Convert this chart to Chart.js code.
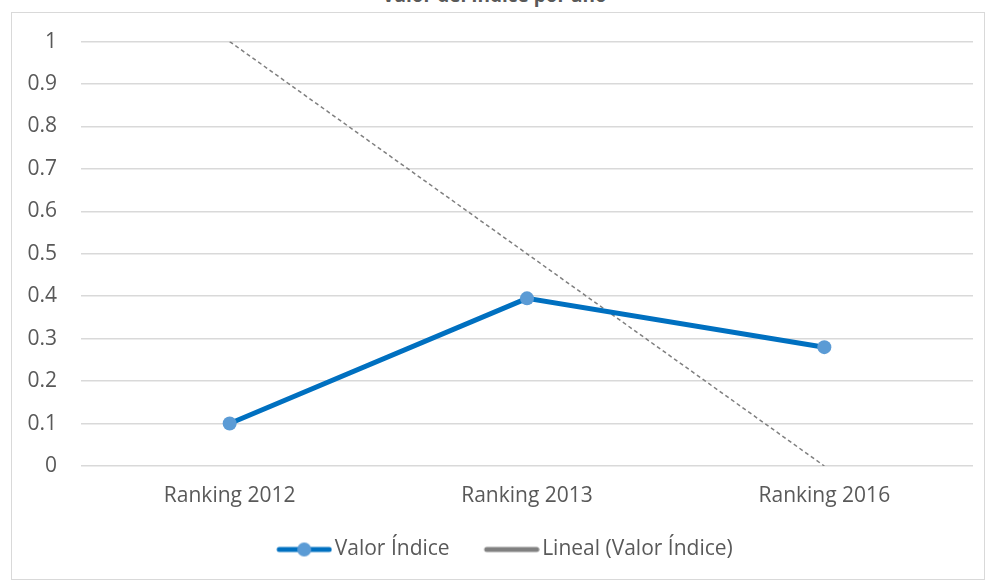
<!DOCTYPE html>
<html>
<head>
<meta charset="utf-8">
<script src="https://cdn.jsdelivr.net/npm/chart.js@4.4.0/dist/chart.umd.min.js"></script>
<style>
  html, body { margin: 0; padding: 0; background: #fff; overflow: hidden; }
  #title {
    position: absolute; left: 0; width: 989px; top: -18px;
    text-align: center; font: bold 19px "Open Sans", sans-serif; color: #595959;
  }
  #box {
    position: absolute; left: 11px; top: 12px; width: 972px; height: 566px;
    border: 1px solid #d9d9d9;
  }
  #lineChart { position: absolute; left: 12px; top: 5px; }
</style>
</head>
<body>
<div id="title">Valor del Índice por año</div>
<div id="box"></div>
<canvas id="lineChart" width="972" height="573"></canvas>
<script>
var categories = ["Ranking 2012", "Ranking 2013", "Ranking 2016"];
var valorIndice = [0.1, 0.395, 0.28];
var tendencia = [1, 0.5, 0];
var yTicks = [0, 0.1, 0.2, 0.3, 0.4, 0.5, 0.6, 0.7, 0.8, 0.9, 1];

// legend symbols: image is wider than the legend box so the line
// reaches close to the text, blank left part spaces the items
function legendIcon(color, dot) {
  var c = document.createElement("canvas");
  c.width = 88; c.height = 16;
  var g = c.getContext("2d");
  g.strokeStyle = color; g.lineWidth = 5; g.lineCap = "round";
  g.beginPath(); g.moveTo(35, 8); g.lineTo(85, 8); g.stroke();
  if (dot) {
    g.fillStyle = "#5B9BD5";
    g.beginPath(); g.arc(60, 8, 7, 0, Math.PI * 2); g.fill();
  }
  return c;
}
var iconValor = legendIcon("#0070C0", true);
var iconLineal = legendIcon("#808080", false);

var font = { family: "'Open Sans', sans-serif", size: 21 };

var ctx = document.getElementById("lineChart");
var myChart = new Chart(ctx, {
  type: 'line',
  data: {
    labels: categories,
    datasets: [{
      label: "Valor Índice",
      data: valorIndice,
      borderColor: '#0070C0',
      borderWidth: 5,
      pointBackgroundColor: '#5B9BD5',
      pointBorderWidth: 0,
      pointRadius: 7,
      fill: false
    }, {
      label: "Lineal (Valor Índice)",
      data: tendencia,
      borderColor: '#7f7f7f',
      borderWidth: 1.5,
      borderDash: [4, 3],
      pointRadius: 0,
      fill: false
    }]
  },
  options: {
    responsive: false,
    animation: false,
    layout: { padding: { top: 0, right: 11, left: 0, bottom: 8 } },
    plugins: {
      tooltip: { enabled: false },
      legend: {
        position: 'bottom',
        labels: {
          usePointStyle: true,
          pointStyleWidth: 72,
          color: '#595959',
          font: font,
          padding: 10,
          generateLabels: function (chart) {
            return chart.data.datasets.map(function (d, i) {
              return {
                text: d.label,
                pointStyle: i === 0 ? iconValor : iconLineal,
                fontColor: '#595959',
                lineWidth: 0,
                datasetIndex: i
              };
            });
          }
        }
      }
    },
    scales: {
      x: {
        offset: true,
        grid: { display: false, drawTicks: false },
        border: { display: false },
        ticks: { color: '#595959', padding: 17, font: font },
        afterFit: function (s) { s.height = 63; }
      },
      y: {
        min: 0, max: 1,
        afterBuildTicks: function (s) {
          s.ticks = yTicks.map(function (v) { return { value: v }; });
        },
        grid: { color: '#d9d9d9', lineWidth: 1.5, drawTicks: false },
        border: { display: false },
        ticks: {
          color: '#595959',
          padding: 24,
          font: font,
          callback: function (v) { return String(v); }
        },
        afterFit: function (s) { s.width = 69; }
      }
    }
  }
});
</script>
</body>
</html>
